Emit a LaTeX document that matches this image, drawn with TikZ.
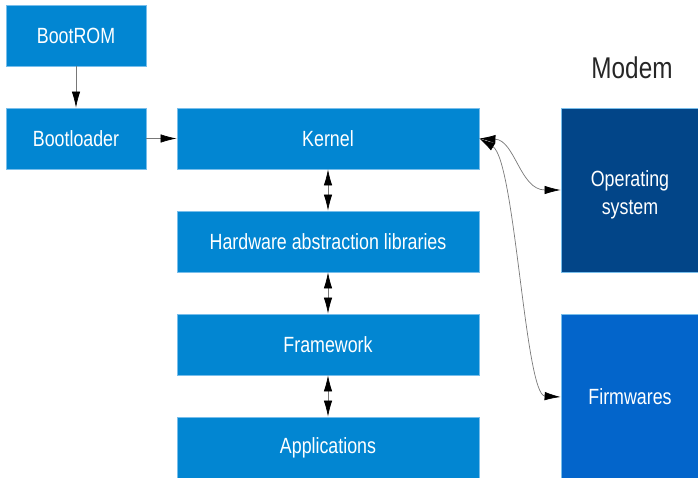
\documentclass[tikz,border=0pt]{standalone}
\usepackage{fontspec}
\setmainfont[FakeStretch=0.81]{Liberation Sans}
\usetikzlibrary{arrows.meta}
\definecolor{mainblue}{RGB}{2,134,210}
\definecolor{osblue}{RGB}{2,69,136}
\definecolor{fwblue}{RGB}{3,101,203}
\definecolor{edgeblue}{RGB}{120,190,235}
\definecolor{linegray}{RGB}{120,120,120}
\tikzset{
  box/.style={fill=mainblue, draw=edgeblue, line width=0.8pt, text=white, inner sep=0pt,
    font=\fontsize{22}{28}\selectfont, align=center, minimum height=61pt},
  conn/.style={draw=linegray, line width=0.7pt, -{Latex[length=16pt,width=8.5pt,color=black]}},
  dconn/.style={draw=linegray, line width=0.7pt, {Latex[length=16pt,width=8.5pt,color=black]}-{Latex[length=16pt,width=8.5pt,color=black]}},
}
\begin{document}
\begin{tikzpicture}[x=1pt,y=-1pt]
\useasboundingbox (0,0) rectangle (698,478);
\node[box, minimum width=140pt] (rom) at (76,35.5) {BootROM};
\node[box, minimum width=140pt] (boot) at (76,138.5) {Bootloader};
\node[box, minimum width=302pt] (kernel) at (328,138.5) {Kernel};
\node[box, minimum width=302pt] (hal) at (328,241.5) {Hardware abstraction libraries};
\node[box, minimum width=302pt] (fw) at (328,344.5) {Framework};
\node[box, minimum width=302pt] (app) at (328,447.5) {Applications};
\node[box, fill=osblue, minimum width=138pt, minimum height=164pt, text depth=0pt] (os) at (630,190) {\raisebox{9pt}{\parbox{130pt}{\centering Operating\\system}}};
\node[box, fill=fwblue, minimum width=138pt, minimum height=166pt] (firm) at (630,397) {Firmwares};
\node[font=\fontsize{30}{34}\selectfont, text=black!85] (modem) at (632,68) {Modem};
\draw[conn] (rom.south) -- (boot.north);
\draw[conn] (boot.east) -- (kernel.west);
\draw[dconn] (kernel.south) -- (hal.north);
\draw[dconn] (hal.south) -- (fw.north);
\draw[dconn] (fw.south) -- (app.north);
\draw[dconn] (kernel.east) .. controls (515,140) and (520,190) .. (os.west);
\draw[dconn] (kernel.east) .. controls (515,160) and (525,395) .. (firm.west);
\end{tikzpicture}
\end{document}
